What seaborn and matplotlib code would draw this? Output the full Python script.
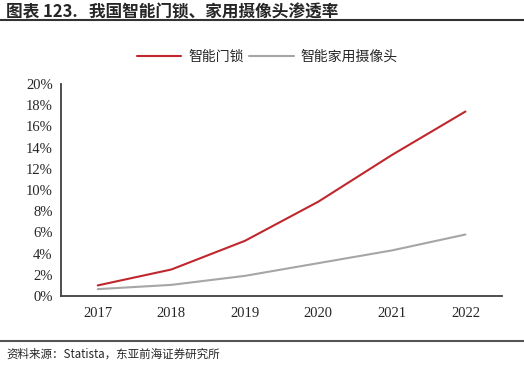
import pandas as pd
import matplotlib.pyplot as plt
import seaborn as sns
from matplotlib.lines import Line2D

years = ["2017", "2018", "2019", "2020", "2021", "2022"]
smart_lock = [1.0, 2.5, 5.2, 8.9, 13.3, 17.4]
home_camera = [0.65, 1.05, 1.9, 3.1, 4.3, 5.8]
series_names = ["智能门锁", "智能家用摄像头"]

df = pd.DataFrame({
    "year": years * 2,
    "value": smart_lock + home_camera,
    "series": [series_names[0]] * 6 + [series_names[1]] * 6,
})

sns.set_style("white")
plt.rcParams["font.family"] = ["Noto Sans CJK SC", "DejaVu Sans"]

fig = plt.figure(figsize=(5.24, 3.65), dpi=100)
ax = fig.add_axes([0.1164, 0.189, 0.842, 0.581])

palette = {series_names[0]: "#C0272D", series_names[1]: "#A6A6A6"}
sns.lineplot(data=df, x="year", y="value", hue="series", palette=palette,
             linewidth=1.5, ax=ax, legend=False, sort=False)

ax.set_xlim(-0.5, 5.5)
ax.set_ylim(0, 20)
ax.set_yticks(range(0, 21, 2))
ax.set_yticklabels([f"{v}%" for v in range(0, 21, 2)])
ax.set_xlabel("")
ax.set_ylabel("")

for side in ["top", "right"]:
    ax.spines[side].set_visible(False)
for side in ["left", "bottom"]:
    ax.spines[side].set_color("#404040")
    ax.spines[side].set_linewidth(1.3)

ax.tick_params(axis="y", direction="in", length=4, width=1, color="#404040",
               labelsize=10.5, pad=6)
ax.tick_params(axis="x", length=0, labelsize=10.5, pad=8)
for lab in ax.get_xticklabels() + ax.get_yticklabels():
    lab.set_fontfamily("Liberation Serif")

handles = [Line2D([0], [0], color=palette[n], lw=1.5) for n in series_names]
fig.legend(handles, series_names, loc="center", bbox_to_anchor=(0.51, 0.845),
           ncol=2, frameon=False, fontsize=10, handlelength=3.2,
           handletextpad=0.5, columnspacing=0.4)

fig.text(0.012, 0.965, "图表 123.   我国智能门锁、家用摄像头渗透率",
         fontsize=12, fontweight="bold", va="center", ha="left")
fig.add_artist(Line2D([0, 1], [0.945, 0.945], color="#333333", lw=1.5))
fig.add_artist(Line2D([0, 1], [0.066, 0.066], color="#555555", lw=1.5))
fig.text(0.012, 0.03, "资料来源：Statista，东亚前海证券研究所",
         fontsize=8.3, va="center", ha="left")

fig.savefig("out.png", dpi=100)
